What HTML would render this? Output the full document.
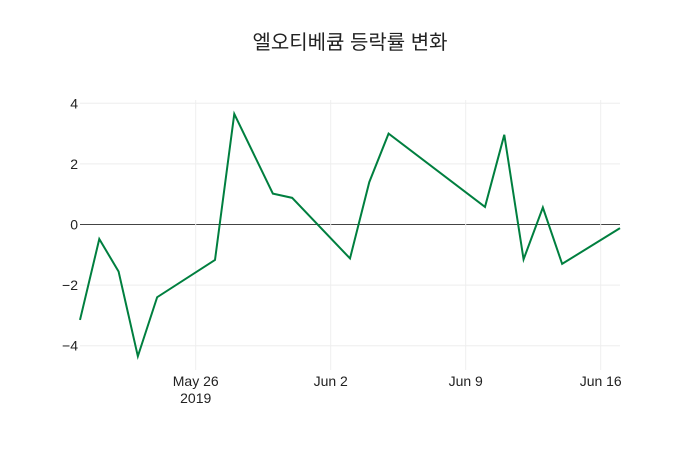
<!DOCTYPE html>
<html><head><meta charset="utf-8"><style>
body{margin:0;background:#fff;}
svg text{font-family:"Liberation Sans","Noto Sans CJK KR",sans-serif;fill:#222;}
</style></head><body>
<svg id="chart" width="700" height="450" xmlns="http://www.w3.org/2000/svg">
<text x="350" y="49" text-anchor="middle" font-size="20">엘오티베큠 등락률 변화</text>
<g id="grid"></g><g id="axes"></g><g id="series"></g>
</svg>
<script>
const dates=["2019-05-20","2019-05-21","2019-05-22","2019-05-23","2019-05-24","2019-05-27","2019-05-28","2019-05-30","2019-05-31","2019-06-03","2019-06-04","2019-06-05","2019-06-10","2019-06-11","2019-06-12","2019-06-13","2019-06-14","2019-06-17"];
const values=[-3.15,-0.48,-1.55,-4.35,-2.4,-1.17,3.65,1.02,0.88,-1.12,1.4,3.0,0.58,2.96,-1.15,0.56,-1.3,-0.12];
const yTicks=[-4,-2,0,2,4];
const xTickDates=["2019-05-26","2019-06-02","2019-06-09","2019-06-16"];
const xTickLabels=["May 26","Jun 2","Jun 9","Jun 16"];
const NS="http://www.w3.org/2000/svg";
const L=80,R=620,T=100,B=370;
const d0=Date.parse("2019-05-20"),d1=Date.parse("2019-06-17");
const xs=d=>L+(Date.parse(d)-d0)/(d1-d0)*(R-L);
const ys=v=>224.5-v*30.3;
function mk(tag,attrs,parent){const e=document.createElementNS(NS,tag);for(const k in attrs)e.setAttribute(k,attrs[k]);document.getElementById(parent).appendChild(e);return e;}
yTicks.forEach(v=>{
 const l=mk('line',{x1:L,x2:R,y1:ys(v),y2:ys(v),stroke:v===0?'#444':'#eee','stroke-width':1},'grid');
 
 
 const t=mk('text',{x:L-2,y:ys(v)+5,'text-anchor':'end','font-size':14},'axes');
 t.textContent=v<0?'\u2212'+Math.abs(v):String(v);
 
 
});
xTickDates.forEach((d,i)=>{
 const l=mk('line',{x1:xs(d),x2:xs(d),y1:T,y2:B,stroke:'#eee','stroke-width':1},'grid');
 
 
 const t=mk('text',{x:xs(d),y:386,'text-anchor':'middle','font-size':14},'axes');
 t.textContent=xTickLabels[i];
 
 
});
const yr=mk('text',{x:xs(xTickDates[0]),y:403,'text-anchor':'middle','font-size':14},'axes');
yr.textContent='2019';


const p=mk('polyline',{points:dates.map((d,i)=>xs(d)+','+ys(values[i])).join(' '),fill:'none',stroke:'#007f3f','stroke-width':2},'series');


</script>
</body></html>
